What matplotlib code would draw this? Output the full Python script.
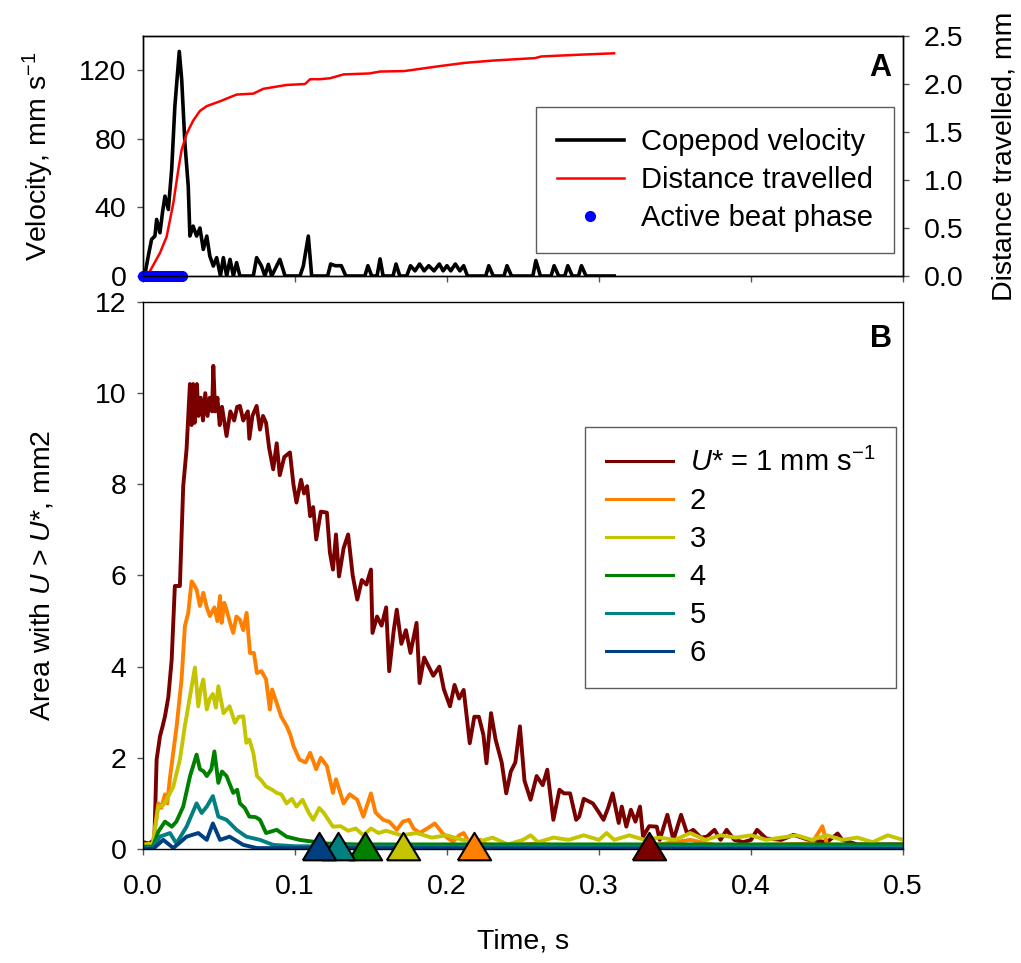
import numpy as np
import matplotlib
matplotlib.use('Agg')
import matplotlib.pyplot as plt

plt.rcParams['font.family'] = ['Liberation Sans', 'DejaVu Sans']
plt.rcParams['mathtext.fontset'] = 'custom'
plt.rcParams['mathtext.rm'] = 'Liberation Sans'
plt.rcParams['mathtext.it'] = 'Liberation Sans:italic'
plt.rcParams['mathtext.default'] = 'regular'

FS = 20.5   # tick / axis labels
LFS = 21    # legend text

# ---- panel A data ----
vel_t = [0.0, 0.0013, 0.0035, 0.0057, 0.0079, 0.009, 0.0112, 0.013, 0.0145, 0.0167, 0.0189, 0.021,
         0.0239, 0.0255, 0.0276, 0.0298, 0.0309, 0.033, 0.0353, 0.0375, 0.0397, 0.042, 0.044, 0.0463,
         0.0485, 0.051, 0.0529, 0.0551, 0.0573, 0.0595, 0.0616, 0.0638, 0.0726, 0.0748, 0.078, 0.0802,
         0.0825, 0.0847, 0.0901, 0.0935, 0.1033, 0.1055, 0.1088, 0.111,
         0.1215, 0.1235, 0.1265, 0.1305, 0.1335, 0.146, 0.148, 0.1505, 0.154, 0.156, 0.158,
         0.1645, 0.1665, 0.169, 0.1735, 0.176, 0.179, 0.182, 0.185, 0.188, 0.1915, 0.195, 0.1975,
         0.200, 0.2025, 0.2055, 0.2085, 0.211, 0.2135, 0.2255, 0.2275, 0.2305, 0.2375, 0.2395, 0.2425,
         0.2565, 0.2585, 0.2615, 0.2685, 0.2705, 0.2735, 0.2775, 0.2795, 0.2825, 0.2865, 0.2885, 0.2915,
         0.310]
vel_v = [0, 1, 11.6, 21.4, 23.3, 33, 25.2, 38, 46.6, 38.8, 62, 99,
         131, 114.5, 77.6, 52.4, 23.3, 29.1, 23.3, 28, 15.5, 23.3, 11.6, 5.8,
         10.7, 0, 10.7, 0, 9.7, 0, 7.8, 0, 0, 10.7, 5.8, 0,
         6.8, 0, 9.7, 0, 0, 5.8, 23.3, 0,
         0, 7, 6, 6, 0, 0, 6, 0, 0, 10, 0,
         0, 7, 0, 0, 6, 3, 7, 3, 6, 3, 7, 3,
         6, 3, 7, 3, 6, 0, 0, 6, 0, 0, 6, 0,
         0, 9, 0, 0, 6, 0, 0, 6, 0, 0, 6, 0,
         0]

dist_t = [0.003, 0.0046, 0.0112, 0.0156, 0.020, 0.0232, 0.0254, 0.0287, 0.0331, 0.0375, 0.042,
          0.0507, 0.0616, 0.0726, 0.0792, 0.0945, 0.1066, 0.110, 0.1165, 0.123, 0.132, 0.149,
          0.156, 0.172, 0.195, 0.2116, 0.230, 0.258, 0.262, 0.288, 0.310]
dist_d = [0.0, 0.05, 0.24, 0.41, 0.76, 1.1, 1.31, 1.48, 1.62, 1.72, 1.77,
          1.82, 1.89, 1.9, 1.95, 1.99, 2.0, 2.05, 2.05, 2.06, 2.1, 2.11,
          2.13, 2.135, 2.186, 2.22, 2.244, 2.27, 2.287, 2.306, 2.32]

beat_t = [0.0, 0.002, 0.004, 0.006, 0.008, 0.010, 0.012, 0.014, 0.016, 0.018, 0.020, 0.022, 0.024, 0.026]

# ---- panel B data ----
u1_t = [0.000, 0.004, 0.0075, 0.009, 0.0112, 0.013, 0.0145, 0.0167, 0.0189, 0.021, 0.0243, 0.0265,
        0.0287, 0.030, 0.0309, 0.032, 0.033, 0.034, 0.0355, 0.0365, 0.038, 0.0395, 0.041, 0.0425,
        0.044, 0.0455, 0.0463, 0.0475, 0.049, 0.0505, 0.052, 0.055, 0.0575, 0.060, 0.062, 0.0638,
        0.066, 0.069, 0.070, 0.072, 0.0748, 0.077, 0.079, 0.081, 0.083, 0.0857, 0.088, 0.090,
        0.093, 0.0967, 0.099, 0.101, 0.104, 0.106, 0.108, 0.110, 0.112, 0.114, 0.117, 0.121,
        0.123, 0.125, 0.127, 0.129, 0.132, 0.135, 0.138, 0.141, 0.144, 0.147, 0.150, 0.151,
        0.154, 0.157, 0.160, 0.162, 0.165, 0.167, 0.170, 0.173, 0.176, 0.180, 0.182, 0.185,
        0.188, 0.191, 0.195, 0.198, 0.202, 0.205, 0.208, 0.211, 0.215, 0.218, 0.221, 0.224,
        0.226, 0.229, 0.232, 0.236, 0.239, 0.242, 0.245, 0.248, 0.251, 0.255, 0.259, 0.263,
        0.266, 0.270, 0.274, 0.277, 0.281, 0.285, 0.287, 0.290, 0.296, 0.300, 0.303, 0.306,
        0.309, 0.313, 0.315, 0.318, 0.321, 0.324, 0.327, 0.329, 0.333, 0.338, 0.340, 0.345,
        0.349, 0.354, 0.358, 0.362, 0.367, 0.371, 0.376, 0.380, 0.384, 0.389, 0.395, 0.400,
        0.404, 0.410, 0.420, 0.428, 0.438, 0.450, 0.457, 0.460, 0.470, 0.480, 0.500]
u1_y = [0.15, 0.12, 0.2, 1.96, 2.47, 2.7, 2.91, 3.33, 4.15, 5.77, 5.77, 7.96,
        8.77, 9.6, 10.2, 9.3, 10.2, 9.35, 10.2, 9.5, 9.9, 9.4, 10.0, 9.5,
        9.9, 9.6, 10.6, 9.6, 9.9, 9.3, 9.7, 9.06, 9.6, 9.4, 9.7, 9.72,
        9.4, 9.6, 9.0, 9.5, 9.72, 9.2, 9.5, 9.35, 8.8, 8.33, 8.9, 8.2,
        8.6, 8.7, 8.0, 7.6, 8.1, 7.8, 7.96, 7.3, 7.5, 6.79, 7.4, 7.38,
        6.5, 6.13, 6.9, 5.98, 6.6, 6.9, 6.0, 5.47, 5.9, 5.8, 6.13, 4.74,
        5.1, 4.9, 5.3, 3.9, 4.8, 5.25, 4.5, 4.8, 4.3, 4.96, 3.64, 4.2,
        4.0, 3.8, 4.0, 3.5, 3.13, 3.6, 3.3, 3.49, 2.32, 2.9, 2.9, 2.5,
        1.88, 2.98, 2.4, 1.9, 1.22, 1.7, 1.9, 2.69, 1.5, 1.08, 1.6, 1.4,
        1.74, 0.64, 1.3, 1.22, 1.22, 0.64, 0.71, 1.1, 1.0, 0.8, 0.64, 0.9,
        1.22, 0.57, 0.93, 0.49, 0.86, 0.6, 0.93, 0.27, 0.5, 0.49, 0.2, 0.75,
        0.2, 0.75, 0.34, 0.42, 0.25, 0.27, 0.42, 0.2, 0.42, 0.2, 0.15, 0.2,
        0.42, 0.23, 0.2, 0.31, 0.2, 0.15, 0.34, 0.2, 0.1, 0.1, 0.1]

u2_t = [0.000, 0.0066, 0.0101, 0.012, 0.0145, 0.016, 0.0178, 0.0222, 0.0254, 0.0276, 0.0298, 0.032,
        0.0335, 0.0353, 0.0375, 0.0397, 0.042, 0.044, 0.047, 0.049, 0.0507, 0.0518, 0.0535, 0.055,
        0.057, 0.0594, 0.0615, 0.0638, 0.066, 0.0682, 0.0704, 0.073, 0.075, 0.078, 0.081, 0.0835,
        0.085, 0.088, 0.091, 0.0945, 0.097, 0.099, 0.103, 0.107, 0.110, 0.114, 0.117, 0.121,
        0.125, 0.127, 0.132, 0.136, 0.141, 0.145, 0.150, 0.153, 0.158, 0.162, 0.167, 0.171,
        0.175, 0.178, 0.182, 0.187, 0.192, 0.197, 0.200, 0.204, 0.208, 0.211, 0.215, 0.222,
        0.226, 0.240, 0.260, 0.280, 0.300, 0.320, 0.340, 0.360, 0.380, 0.400, 0.420, 0.440,
        0.447, 0.450, 0.470, 0.500]
u2_y = [0.05, 0.12, 1.0, 0.9, 1.2, 1.0, 1.57, 2.7, 3.72, 4.89, 5.18, 5.87,
        5.8, 5.69, 5.33, 5.62, 5.3, 5.11, 5.3, 5.0, 5.55, 4.96, 5.4, 5.25,
        5.0, 4.74, 5.1, 5.03, 4.8, 5.18, 4.3, 4.3, 3.86, 3.9, 3.72, 3.06,
        3.5, 3.2, 2.9, 2.7, 2.5, 2.26, 1.96, 1.9, 2.11, 1.75, 2.0, 1.82,
        1.23, 1.53, 1.0, 1.2, 1.08, 0.71, 1.22, 0.8, 0.64, 0.6, 0.42, 0.6,
        0.64, 0.45, 0.35, 0.45, 0.56, 0.35, 0.25, 0.16, 0.3, 0.35, 0.12, 0.2,
        0.1, 0.08, 0.12, 0.05, 0.08, 0.05, 0.1, 0.2, 0.06, 0.08, 0.1, 0.12,
        0.5, 0.1, 0.08, 0.05]

u3_t = [0.000, 0.0066, 0.0101, 0.013, 0.0156, 0.020, 0.0243, 0.0276, 0.031, 0.0342, 0.0364, 0.038,
        0.0397, 0.042, 0.044, 0.046, 0.048, 0.0496, 0.053, 0.057, 0.0605, 0.063, 0.066, 0.068,
        0.070, 0.0726, 0.075, 0.078, 0.081, 0.085, 0.088, 0.091, 0.0945, 0.098, 0.101, 0.105,
        0.109, 0.112, 0.116, 0.119, 0.125, 0.130, 0.135, 0.140, 0.145, 0.150, 0.155, 0.160,
        0.170, 0.180, 0.190, 0.200, 0.210, 0.220, 0.230, 0.240, 0.250, 0.255, 0.260, 0.270,
        0.280, 0.290, 0.300, 0.305, 0.310, 0.320, 0.330, 0.340, 0.350, 0.360, 0.370, 0.380,
        0.390, 0.400, 0.410, 0.420, 0.430, 0.440, 0.450, 0.460, 0.470, 0.480, 0.490, 0.500]
u3_y = [0.1, 0.12, 0.93, 0.95, 1.08, 1.37, 1.96, 2.7, 3.36, 3.98, 3.13, 3.5,
        3.72, 3.06, 3.3, 3.4, 3.1, 3.57, 2.98, 3.13, 2.77, 2.9, 2.91, 2.33,
        2.4, 2.11, 1.6, 1.5, 1.37, 1.3, 1.23, 1.2, 1.0, 1.1, 0.93, 1.08,
        0.8, 0.64, 0.9, 0.79, 0.49, 0.5, 0.4, 0.45, 0.3, 0.45, 0.35, 0.4,
        0.3, 0.35, 0.25, 0.3, 0.2, 0.15, 0.25, 0.1, 0.2, 0.3, 0.15, 0.25,
        0.2, 0.3, 0.2, 0.35, 0.2, 0.3, 0.2, 0.25, 0.2, 0.35, 0.2, 0.3,
        0.25, 0.3, 0.2, 0.25, 0.3, 0.2, 0.3, 0.2, 0.25, 0.15, 0.3, 0.2]

u4_t = [0.000, 0.0066, 0.0101, 0.0145, 0.019, 0.022, 0.0265, 0.031, 0.0353, 0.0375, 0.040, 0.042,
        0.045, 0.047, 0.0496, 0.052, 0.055, 0.0594, 0.062, 0.0638, 0.067, 0.070, 0.074, 0.077,
        0.081, 0.088, 0.0945, 0.103, 0.112, 0.120, 0.140, 0.200, 0.300, 0.400, 0.500]
u4_y = [0.05, 0.05, 0.38, 0.6, 0.49, 0.6, 0.93, 1.6, 2.07, 1.75, 1.7, 1.6,
        1.75, 2.14, 1.45, 1.7, 1.6, 1.23, 1.3, 1.0, 0.9, 0.71, 0.7, 0.64,
        0.35, 0.42, 0.27, 0.2, 0.16, 0.12, 0.1, 0.1, 0.1, 0.1, 0.1]

u5_t = [0.000, 0.0066, 0.0112, 0.0178, 0.022, 0.0287, 0.0353, 0.0386, 0.042, 0.046, 0.0496, 0.055,
        0.0616, 0.068, 0.077, 0.0857, 0.100, 0.200, 0.500]
u5_y = [0.02, 0.02, 0.27, 0.35, 0.12, 0.49, 1.0, 0.79, 0.93, 1.16, 0.71, 0.64,
        0.42, 0.27, 0.2, 0.09, 0.06, 0.05, 0.05]

u6_t = [0.000, 0.0066, 0.0134, 0.020, 0.0287, 0.0364, 0.042, 0.046, 0.0507, 0.057, 0.066, 0.075, 0.500]
u6_y = [0.0, 0.0, 0.2, 0.02, 0.27, 0.35, 0.2, 0.56, 0.2, 0.27, 0.09, 0.02, 0.0]

# time at which each threshold area returns to ~0 (triangles)
end_t = [0.333, 0.218, 0.171, 0.146, 0.1285, 0.116]

series = [(u1_t, u1_y), (u2_t, u2_y), (u3_t, u3_y), (u4_t, u4_y), (u5_t, u5_y), (u6_t, u6_y)]
labels = [r'$\mathit{U}$* = 1 mm s$^{-1}$', '2', '3', '4', '5', '6']
colors = ['#7a0000', '#ff8000', '#c4c400', '#008000', '#008080', '#004080']

fig = plt.figure(figsize=(10.21, 9.63), dpi=100)
axA = fig.add_axes([0.140, 0.7134, 0.7444, 0.2492])
axB = fig.add_axes([0.140, 0.1184, 0.7444, 0.5680])

leg_kw = dict(borderaxespad=0, fontsize=LFS, frameon=True, fancybox=False,
              edgecolor='#333333', handlelength=2.3, handletextpad=0.58,
              labelspacing=0.34, borderpad=0.72)

# panel A
axA.plot(vel_t, vel_v, color='black', lw=2.6, label='Copepod velocity')
axA.set_xlim(0, 0.5)
axA.set_ylim(0, 140)
axA.set_yticks([0, 40, 80, 120])
axA.set_xticks([0, 0.1, 0.2, 0.3, 0.4, 0.5])
axA.set_xticklabels([])
axA.set_ylabel(r'Velocity, mm s$^{-1}$', fontsize=FS)
axA.yaxis.set_label_coords(-0.115, 0.5)

axA2 = axA.twinx()
axA2.plot(dist_t, dist_d, color='red', lw=1.8, label='Distance travelled')
axA2.plot(beat_t, [0] * len(beat_t), ls='none', marker='o', ms=7, color='blue',
          clip_on=False, label='Active beat phase')
axA2.set_ylim(0, 2.5)
axA2.set_yticks([0, 0.5, 1.0, 1.5, 2.0, 2.5])
axA2.set_yticklabels(['0.0', '0.5', '1.0', '1.5', '2.0', '2.5'])
axA2.set_ylabel('Distance travelled, mm', fontsize=FS, rotation=90)
axA2.yaxis.set_label_coords(1.117, 0.5)

h1, l1 = axA.get_legend_handles_labels()
h2, l2 = axA2.get_legend_handles_labels()
legA = axA2.legend(h1 + h2, l1 + l2, loc='upper right', bbox_to_anchor=(0.988, 0.704),
                   numpoints=1, **leg_kw)
legA.get_frame().set_linewidth(1.0)
axA.text(0.985, 0.93, 'A', transform=axA.transAxes, ha='right', va='top',
         fontsize=22, fontweight='bold')

# panel B
for (t, y), c, lab in zip(series, colors, labels):
    axB.plot(t, y, color=c, lw=2.8, label=lab)

tri = [(-1, -0.65), (1, -0.65), (0, 1.0), (-1, -0.65)]
for te, c in zip(end_t, colors):
    axB.plot([te], [0], ls='none', marker=tri, ms=24, markerfacecolor=c,
             markeredgecolor='black', markeredgewidth=1.5, clip_on=False, zorder=5)

axB.set_xlim(0, 0.5)
axB.set_ylim(0, 12)
axB.set_xticks([0, 0.1, 0.2, 0.3, 0.4, 0.5])
axB.set_xticklabels(['0.0', '0.1', '0.2', '0.3', '0.4', '0.5'])
axB.set_yticks([0, 2, 4, 6, 8, 10, 12])
axB.set_xlabel('Time, s', fontsize=FS)
axB.xaxis.set_label_coords(0.5, -0.145)
axB.set_ylabel(r'Area with $\mathit{U}$ > $\mathit{U}$*, mm2', fontsize=FS)
axB.yaxis.set_label_coords(-0.115, 0.5)
legB = axB.legend(loc='upper right', bbox_to_anchor=(0.991, 0.771), **leg_kw)
legB.get_frame().set_linewidth(1.0)
for ln in legB.get_lines():
    ln.set_linewidth(2.2)
axB.text(0.985, 0.96, 'B', transform=axB.transAxes, ha='right', va='top',
         fontsize=22, fontweight='bold')

for ax in (axA, axA2, axB):
    ax.tick_params(direction='out', length=4, width=1, labelsize=FS, color='#555555')
    for s in ax.spines.values():
        s.set_linewidth(1.0)
axA.tick_params(axis='y', pad=8)
axA2.tick_params(axis='y', pad=11)
axB.tick_params(axis='y', pad=8)
axB.tick_params(axis='x', pad=14)

fig.savefig('out.png', dpi=100)
